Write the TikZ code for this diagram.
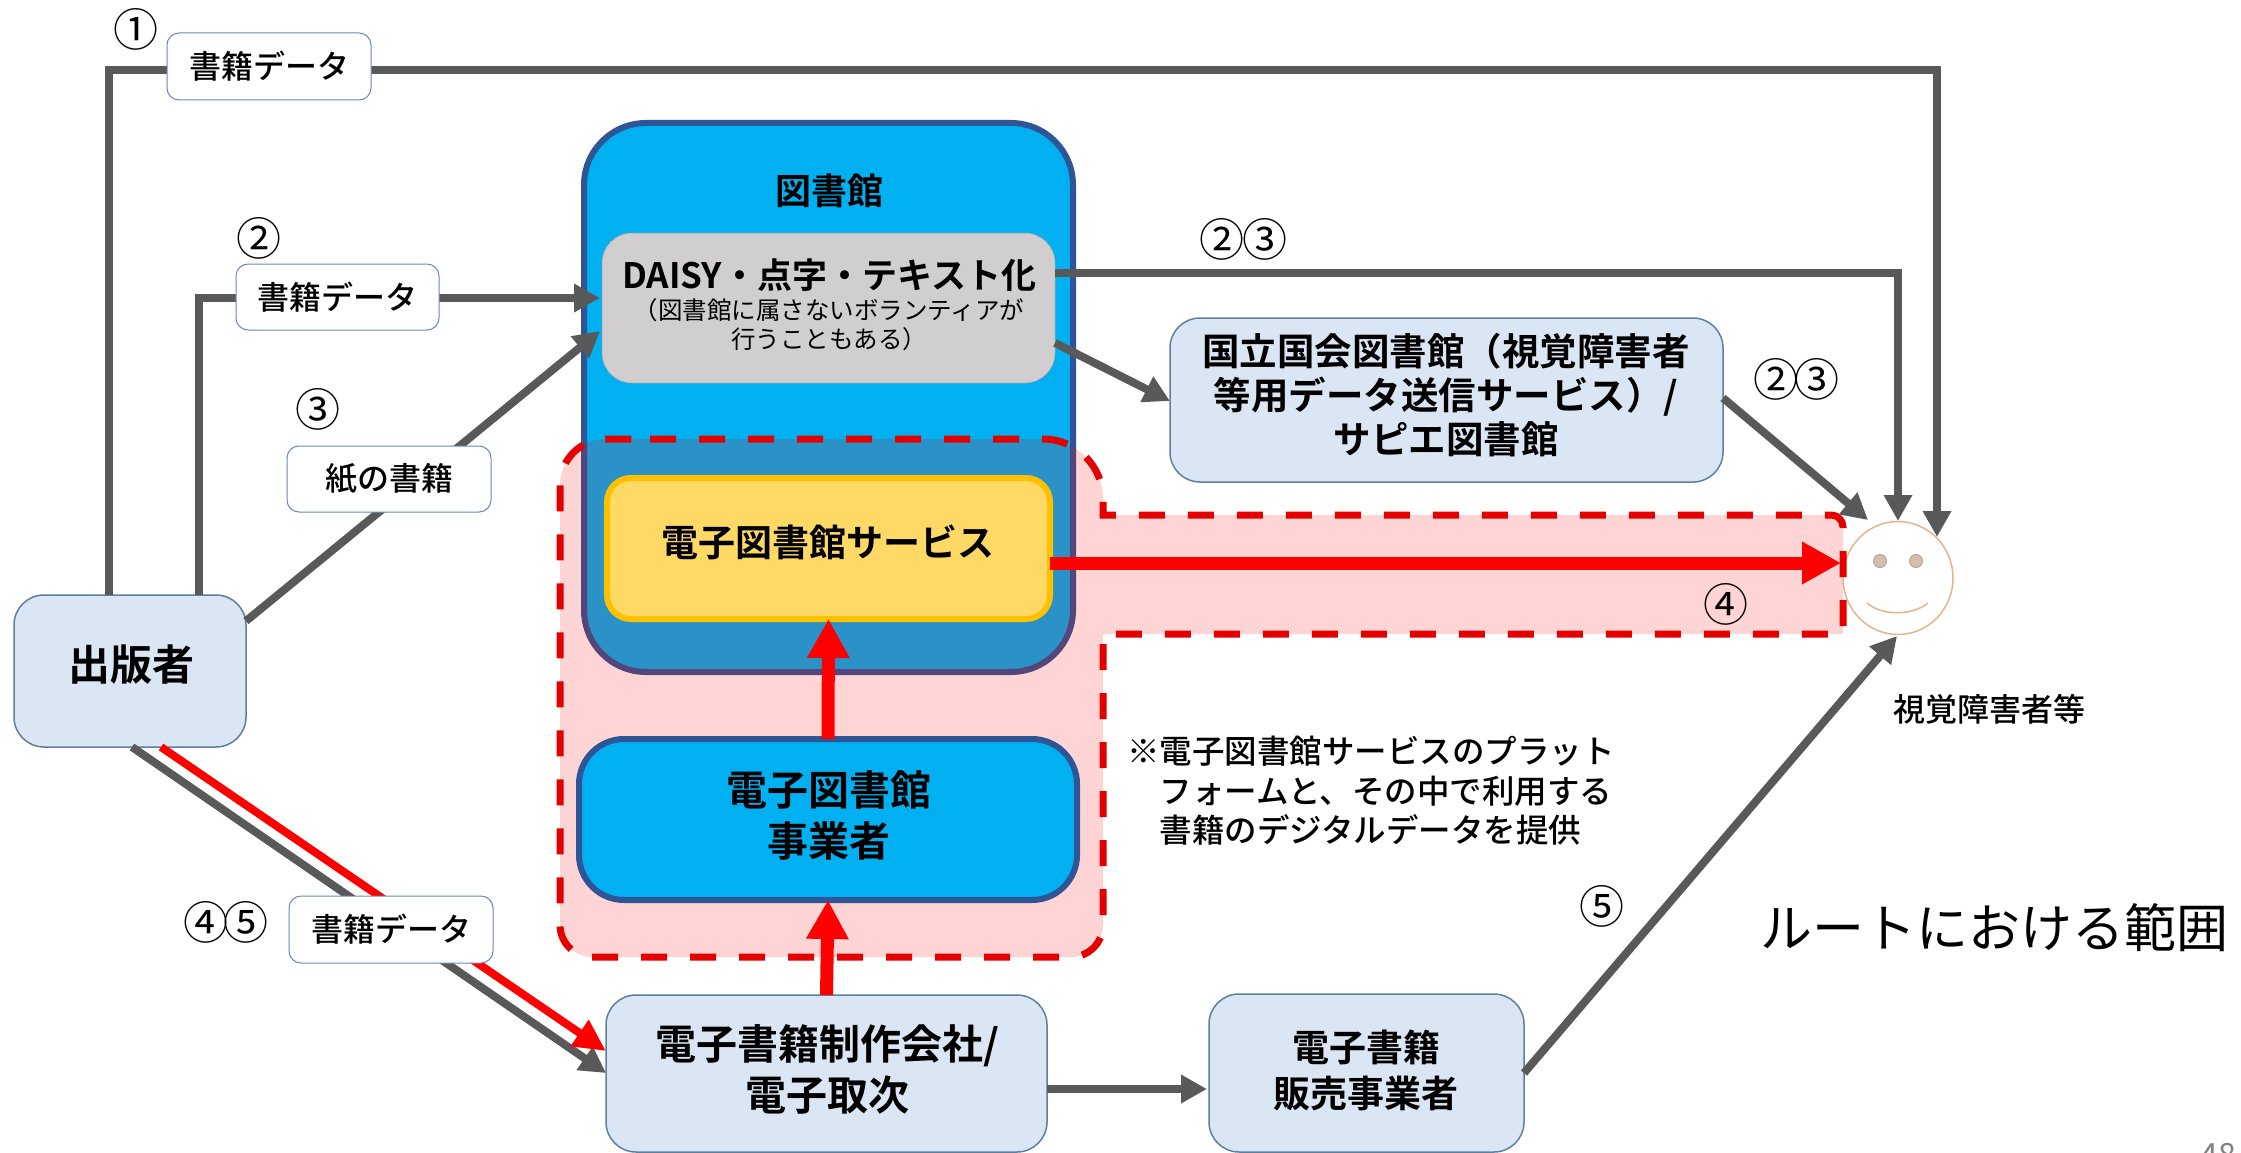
\documentclass[tikz,border=0pt]{standalone}
\usepackage{fontspec}
\setmainfont{Noto Sans CJK JP}[BoldFont={Noto Sans CJK JP Bold}]
\newfontfamily\medf{Noto Sans CJK JP Medium}
\usetikzlibrary{arrows.meta,shapes.geometric}
\definecolor{gline}{HTML}{595959}
\definecolor{skyb}{HTML}{00B0F0}
\definecolor{navyb}{HTML}{2F5597}
\definecolor{paleb}{HTML}{DAE6F4}
\definecolor{paleline}{HTML}{5F7F9F}
\definecolor{greyb}{HTML}{D0CECE}
\definecolor{yellowb}{HTML}{FFD966}
\definecolor{orangeb}{HTML}{FFC000}
\definecolor{faceline}{HTML}{E3B48F}
\definecolor{eyefill}{HTML}{D3BDAE}
\definecolor{eyeline}{HTML}{BFA595}
\newcommand{\boxat}[6]{% name, x1, y1, x2, y2, style
  \node[#6, minimum width=#4pt-#2pt, minimum height=#5pt-#3pt] (#1) at ({(#2+#4)/2},{(#3+#5)/2}) {};}
\newcommand{\zonepath}{(650,439) [rounded corners=60pt] -- (1103,439) [sharp corners] -- (1103,515) [rounded corners=12pt] -- (1843,515) [sharp corners] -- (1843,634) -- (1103,634) [rounded corners=32pt] -- (1103,957) -- (560,957) [rounded corners=46pt] -- (560,439) -- (650,439)}
\tikzset{
  x=1pt,y=-1pt,
  every node/.style={inner sep=0pt,outer sep=0pt,align=center,text=black},
  flow/.style={draw=gline,line width=8pt,-{Triangle[length=26pt,width=27pt]}},
  redflow/.style={draw=red,line width=13pt,-{Triangle[length=39pt,width=40pt]}},
  databox/.style={draw=navyb!70,line width=1pt,fill=white,rounded corners=12pt,shape=rectangle},
  palebox/.style={draw=paleline,line width=1.5pt,fill=paleb,rounded corners=30pt,shape=rectangle},
  skybox/.style={draw=navyb,line width=6pt,fill=skyb,rounded corners=45pt,shape=rectangle},
  num/.style={font=\fontsize{45}{45}\selectfont},
  lbl/.style={font=\fontsize{32}{32}\selectfont\medf},
  bf/.style={font=\fontsize{#1}{#1}\selectfont\bfseries},
}
\begin{document}
\begin{tikzpicture}
\useasboundingbox (0,0) rectangle (2241,1153);
\fill[white] (0,0) rectangle (2241,1153);
% library back panel
\boxat{lib}{584}{123}{1073}{672}{draw=navyb,line width=6pt,fill=skyb,rounded corners=62pt,shape=rectangle}
% red zone
\path[fill=red,fill opacity=.17] \zonepath;
\boxat{pub}{14}{595}{246}{747}{palebox}
\boxat{daisy}{602}{233}{1055}{383}{draw=greyb!80!black,densely dotted,line width=1pt,fill=greyb,rounded corners=30pt,shape=rectangle}
\boxat{ndl}{1170}{318}{1723}{482}{palebox}
\boxat{ebook}{607}{478}{1050}{619}{draw=orangeb,line width=6pt,fill=yellowb,rounded corners=24pt,shape=rectangle}
\boxat{vendor}{579}{739}{1077}{900}{skybox}
\boxat{maker}{606}{995}{1047}{1152}{palebox}
\boxat{seller}{1209}{994}{1524}{1152}{palebox}
% face
\node[draw=faceline,line width=1.5pt,fill=white,shape=ellipse,minimum width=110pt,minimum height=113pt] (face) at (1898,578) {};
\node[draw=eyeline,line width=1pt,fill=eyefill,shape=ellipse,minimum width=13pt,minimum height=13pt] (eyeL) at (1880,561) {};
\node[draw=eyeline,line width=1pt,fill=eyefill,shape=ellipse,minimum width=13pt,minimum height=13pt] (eyeR) at (1916,561) {};
\coordinate (smileA) at (1867,603);
\coordinate (smileB) at (1928,603);
\draw[faceline,line width=1.5pt] (smileA) .. controls (1882,616) and (1912,616) .. (smileB);
% connector end coordinates
\coordinate (c1a) at (109,595); \coordinate (c1b) at (109,70); \coordinate (c1c) at (1937,70); \coordinate (c1d) at (1937,537);
\coordinate (c2a) at (199,595); \coordinate (c2b) at (199,298); \coordinate (c2c) at (600,298);
\coordinate (c3a) at (246,621); \coordinate (c3b) at (600,331);
\coordinate (c4a) at (1055,273); \coordinate (c4b) at (1898,273); \coordinate (c4c) at (1898,521);
\coordinate (c5a) at (1055,343); \coordinate (c5b) at (1170,401);
\coordinate (c6a) at (1723,398); \coordinate (c6b) at (1868,520);
\coordinate (c7a) at (1050,563); \coordinate (c7b) at (1841,563);
\coordinate (c8a) at (132,747); \coordinate (c8b) at (606,1073);
\coordinate (c9a) at (161,747); \coordinate (c9b) at (606,1051);
\coordinate (c10a) at (1047,1089); \coordinate (c10b) at (1207,1089);
\coordinate (c11a) at (1524,1073); \coordinate (c11b) at (1897,636);
% grey connectors
\draw[flow] (c1a) -- (c1b) -- (c1c) -- (c1d);
\draw[flow] (c2a) -- (c2b) -- (c2c);
\draw[flow] (c3a) -- (c3b);
\draw[flow] (c4a) -- (c4b) -- (c4c);
\draw[flow] (c5a) -- (c5b);
\draw[flow] (c6a) -- (c6b);
\draw[flow] (c8a) -- (c8b);
\draw[flow] (c10a) -- (c10b);
\draw[flow] (c11a) -- (c11b);
% red connectors
\draw[draw=red,line width=8pt,-{Triangle[length=32pt,width=30pt]}] (c9a) -- (c9b);
\draw[redflow] (c7a) -- (c7b);
\draw[redflow] (vendor.north) -- (ebook.south);
\draw[redflow] (maker.north) -- (vendor.south);
% red dashed outline
\draw[red!90!black,line width=7pt,dash pattern=on 26pt off 23pt] \zonepath;
% label boxes
\boxat{d1}{167}{33}{371}{100}{databox}
\boxat{d2}{236}{264}{439}{330}{databox}
\boxat{d3}{287}{446}{491}{512}{databox}
\boxat{d4}{289}{896}{493}{963}{databox}
\node[lbl] (td1) at (d1) {書籍データ};
\node[lbl] (td2) at (d2) {書籍データ};
\node[lbl] (td3) at (d3) {紙の書籍};
\node[lbl] (td4) at (d4) {書籍データ};
% box texts
\node[bf=42] (tpub) at (131,665) {出版者};
\node[bf=36] (tlib) at (829,191) {図書館};
\node[bf=35] (tdaisy) at (829,275) {DAISY・点字・テキスト化};
\node[font=\fontsize{24.5}{29}\selectfont,anchor=center] (tdaisy2) at (829,325) {（図書館に属さないボランティアが\\行うこともある）};
\node[font=\fontsize{37.5}{44}\selectfont\bfseries] (tndl) at (1446,395) {国立国会図書館（視覚障害者\\等用データ送信サービス）/\\サピエ図書館};
\node[bf=37] (tebook) at (828,542) {電子図書館サービス};
\node[font=\fontsize{41}{51}\selectfont\bfseries] (tvendor) at (829,815) {電子図書館\\事業者};
\node[font=\fontsize{41}{51}\selectfont\bfseries] (tmaker) at (827,1069) {電子書籍制作会社/\\電子取次};
\node[font=\fontsize{37}{46}\selectfont\bfseries] (tseller) at (1366,1070) {電子書籍\\販売事業者};
\node[font=\fontsize{32.5}{39.5}\selectfont\medf,align=left,anchor=north west] (note) at (1127,736) {※電子図書館サービスのプラット\\\hspace{32.5pt}フォームと、その中で利用する\\\hspace{32.5pt}書籍のデジタルデータを提供};
\node[font=\fontsize{32}{32}\selectfont\medf] (tface) at (1989,709) {視覚障害者等};
\node[font=\fontsize{52}{52}\selectfont] (troute) at (1994,928) {ルートにおける範囲};
\node[font=\fontsize{32}{32}\selectfont,text=gray,anchor=north] (tpage) at (2218,1143) {48};
% circled numbers
\node[num] (n1) at (136,29) {①};
\node[num] (n2) at (259,238) {②};
\node[num] (n3) at (318,409) {③};
\node[num] (n23a) at (1222,239) {②};
\node[num] (n23b) at (1265,239) {③};
\node[num] (n23c) at (1776,379) {②};
\node[num] (n23d) at (1817,379) {③};
\node[num] (n4) at (1726,604) {④};
\node[num] (n45a) at (206,922) {④};
\node[num] (n45b) at (246,922) {⑤};
\node[num] (n5) at (1602,906) {⑤};
\end{tikzpicture}
\end{document}
